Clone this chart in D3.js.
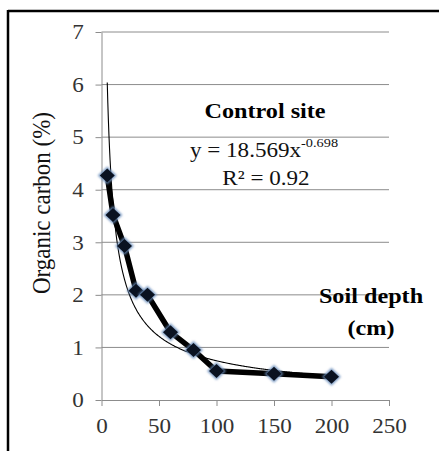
<!DOCTYPE html>
<html>
<head>
<meta charset="utf-8">
<script src="https://cdn.jsdelivr.net/npm/d3@7/dist/d3.min.js"></script>
<style>
  html, body { margin: 0; padding: 0; background: #fff; }
  svg { display: block; }
  svg text { font-family: "Liberation Serif", Tinos, "Times New Roman", "DejaVu Serif", serif !important; }
</style>
</head>
<body>
<svg id="chart" width="439" height="451"></svg>
<script>
// Soil depth (cm) and organic carbon (%) at the control site
const depth = [5, 10, 20, 30, 40, 60, 80, 100, 150, 200];
const carbon = [4.27, 3.52, 2.93, 2.08, 2.0, 1.29, 0.95, 0.55, 0.5, 0.44];

// Power trendline y = a * x^b, as reported on the chart
const fitA = 18.569;
const fitB = -0.698;
const fitR2 = 0.92;

const xTicks = [0, 50, 100, 150, 200, 250];
const yTicks = [0, 1, 2, 3, 4, 5, 6, 7];

const W = 439, H = 451;
const svg = d3.select("#chart");
const sx = 1.1; // horizontal widening of the lettering

const defs = svg.append("defs");
defs.append("filter").attr("id", "soft").attr("x", "-50%").attr("y", "-50%")
  .attr("width", "200%").attr("height", "200%")
  .append("feGaussianBlur").attr("stdDeviation", 0.9);

const x = d3.scaleLinear().domain([0, 250]).range([101.5, 389]);
const y = d3.scaleLinear().domain([0, 7]).range([400, 32]);

// frame (top and left rule)
svg.append("line").attr("x1", 8).attr("x2", W).attr("y1", 11).attr("y2", 11)
  .attr("stroke", "#000").attr("stroke-width", 2.5);
svg.append("line").attr("x1", 8).attr("x2", 8).attr("y1", 10).attr("y2", H)
  .attr("stroke", "#000").attr("stroke-width", 2.5);

// horizontal gridlines
svg.append("g").selectAll("line").data(yTicks.filter(d => d > 0)).join("line")
  .attr("x1", x(0)).attr("x2", x(250))
  .attr("y1", d => y(d)).attr("y2", d => y(d))
  .attr("stroke", "#8c8c8c").attr("stroke-width", 1);

// axes
const axisColor = "#8c8c8c";
const gy = svg.append("g").attr("transform", `translate(${x(0)},0)`)
  .call(d3.axisLeft(y).tickValues(yTicks).tickSize(6).tickSizeOuter(0).tickPadding(10).tickFormat(d3.format("d")));
const gx = svg.append("g").attr("transform", `translate(0,${y(0)})`)
  .call(d3.axisBottom(x).tickValues(xTicks).tickSize(6).tickSizeOuter(0).tickPadding(12).tickFormat(d3.format("d")));
[gx, gy].forEach(g => {
  g.attr("font-family", null);
  g.select(".domain").attr("stroke", axisColor);
  g.selectAll(".tick line").attr("stroke", axisColor);
  g.selectAll(".tick text")
    .attr("font-size", 21).attr("fill", "#333")
    .attr("transform", `scale(${sx},1)`);
});

// trendline
const fitPts = d3.range(5, 200.5, 0.5).map(v => [v, fitA * Math.pow(v, fitB)]);
svg.append("path").datum(fitPts)
  .attr("fill", "none").attr("stroke", "#000").attr("stroke-width", 1.1)
  .attr("d", d3.line().x(d => x(d[0])).y(d => y(d[1])));

// data line
const pts = depth.map((d, i) => [d, carbon[i]]);
svg.append("path").datum(pts)
  .attr("fill", "none").attr("stroke", "#000").attr("stroke-width", 5.5)
  .attr("stroke-linejoin", "round").attr("stroke-linecap", "round")
  .attr("d", d3.line().x(d => x(d[0])).y(d => y(d[1])));

// diamond markers: dark body with a soft blue rim
const mk = svg.append("g").selectAll("g").data(pts).join("g")
  .attr("transform", d => `translate(${x(d[0])},${y(d[1])})`);
mk.append("path").attr("d", "M0,-9 L9.5,0 L0,9 L-9.5,0 Z")
  .attr("fill", "#6a8dbb").attr("fill-opacity", 0.85).attr("filter", "url(#soft)");
mk.append("path").attr("d", "M0,-7 L7.5,0 L0,7 L-7.5,0 Z")
  .attr("fill", "#0a1221");

// lettering
function label(txt, cx, cy, size, weight) {
  return svg.append("text")
    .attr("transform", `translate(${cx},${cy}) scale(${sx},1)`)
    .attr("text-anchor", "middle")
    .attr("font-size", size).attr("font-weight", weight || "normal")
    .attr("fill", "#000").text(txt);
}
label("Control site", 265, 118, 22, "bold");

const eq = svg.append("text")
  .attr("transform", `translate(264,157) scale(${sx},1)`)
  .attr("text-anchor", "middle").attr("font-size", 21).attr("fill", "#111");
eq.append("tspan").text(`y = ${fitA}x`);
eq.append("tspan").attr("font-size", 13).attr("dy", -10).text(`${fitB}`);

const r2 = svg.append("text")
  .attr("transform", `translate(266,185) scale(${sx},1)`)
  .attr("text-anchor", "middle").attr("font-size", 21).attr("fill", "#111");
r2.append("tspan").text("R² = " + fitR2.toFixed(2));

label("Soil depth", 371, 303, 22, "bold");
label("(cm)", 371, 335, 22, "bold");

// y-axis title
svg.append("text")
  .attr("transform", `translate(50,203) scale(${sx},1) rotate(-90)`)
  .attr("text-anchor", "middle").attr("font-size", 23).attr("fill", "#111")
  .text("Organic carbon (%)");
</script>
</body>
</html>
